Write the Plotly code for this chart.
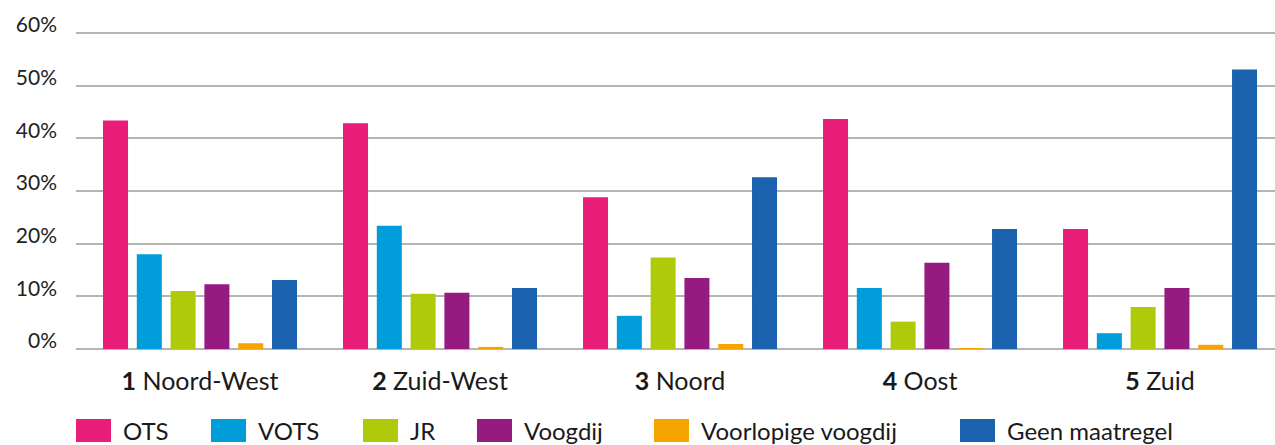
import plotly.graph_objects as go

regions = ["<b>1</b> Noord-West", "<b>2</b> Zuid-West", "<b>3</b> Noord", "<b>4</b> Oost", "<b>5</b> Zuid"]
series_names = ["OTS", "VOTS", "JR", "Voogdij", "Voorlopige voogdij", "Geen maatregel"]
colors = ["#E91E78", "#009DDA", "#AFCA0B", "#951B80", "#F6A500", "#1A62AD"]

ots = [43.4, 42.9, 28.8, 43.7, 22.8]
vots = [18.0, 23.4, 6.3, 11.6, 3.0]
jr = [11.0, 10.5, 17.4, 5.2, 8.0]
voogdij = [12.3, 10.7, 13.5, 16.4, 11.6]
voorlopige = [1.1, 0.4, 0.95, 0.05, 0.8]
geen = [13.1, 11.6, 32.6, 22.8, 53.1]
series_values = [ots, vots, jr, voogdij, voorlopige, geen]

y_ticks = [0, 10, 20, 30, 40, 50, 60]
y_tick_labels = ["0%", "10%", "20%", "30%", "40%", "50%", "60%"]

# legend layout (pixel x positions of swatches)
legend_x_px = [76, 211, 363, 477, 654, 960]

FONT = "Lato, 'Open Sans', sans-serif"
W, H = 1275, 445
ML, MR, MT, MB = 76, 0, 31, 96

fig = go.Figure()
for name, vals, col in zip(series_names, series_values, colors):
    fig.add_trace(go.Bar(x=list(range(len(regions))), y=vals, name=name,
                         marker=dict(color=col, line=dict(width=0)),
                         showlegend=False))

# custom legend with large square swatches
plot_w = W - ML - MR
plot_h = H - MT - MB
for name, col, px in zip(series_names, colors, legend_x_px):
    x0 = (px - ML) / plot_w
    x1 = (px + 35 - ML) / plot_w
    y0 = (H - MB - 442) / plot_h
    y1 = (H - MB - 419) / plot_h
    fig.add_shape(type="rect", xref="paper", yref="paper", x0=x0, x1=x1, y0=y0, y1=y1,
                  fillcolor=col, line=dict(width=0))
    fig.add_annotation(xref="paper", yref="paper", x=(px + 45 - ML) / plot_w,
                       y=(H - MB - 430) / plot_h, text=name, showarrow=False,
                       xanchor="left", yanchor="middle",
                       font=dict(family=FONT, size=24, color="#1a1a1a"))

fig.update_layout(
    width=W, height=H,
    margin=dict(l=ML, r=MR, t=MT, b=MB),
    paper_bgcolor="white", plot_bgcolor="white",
    barmode="group", bargap=0.155, bargroupgap=0.26,
    font=dict(family=FONT, color="#1a1a1a"),
    xaxis=dict(range=[-0.5167, 4.479], tickmode="array",
               tickvals=list(range(len(regions))), ticktext=regions,
               tickfont=dict(size=25, family=FONT, color="#1a1a1a"),
               showgrid=False, zeroline=False, showline=False, ticks="",
               ticklabelstandoff=15),
    yaxis=dict(range=[0, 60.4], tickmode="array", tickvals=y_ticks, ticktext=y_tick_labels,
               tickfont=dict(size=21, family=FONT, color="#222222"),
               showgrid=True, gridcolor="#b5b5b5", gridwidth=2,
               zeroline=True, zerolinecolor="#b5b5b5", zerolinewidth=2,
               showline=False, ticks="", ticklabelstandoff=18, ticklabelshift=-8),
)

fig.write_html("out.html", config={"displayModeBar": False},
               post_script="document.body.style.margin='0';document.body.style.overflow='hidden';")
